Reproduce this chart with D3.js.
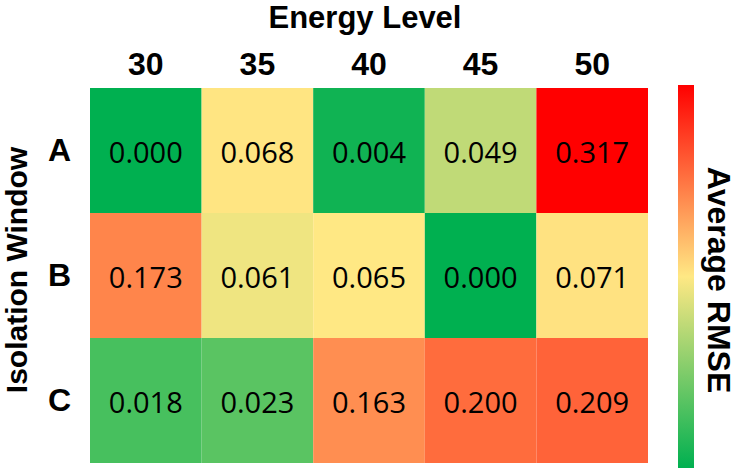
<!DOCTYPE html>
<html>
<head>
<meta charset="utf-8">
<script src="https://cdn.jsdelivr.net/npm/d3@7"></script>
<style>
  body { margin: 0; background: #fff; }
</style>
</head>
<body>
<script>
// heatmap of average RMSE, energy level vs isolation window
var width = 739;
var height = 469;

var energyLevels = ["30", "35", "40", "45", "50"];
var windows = ["A", "B", "C"];
var rowA = [0.000, 0.068, 0.004, 0.049, 0.317];
var rowB = [0.173, 0.061, 0.065, 0.000, 0.071];
var rowC = [0.018, 0.023, 0.163, 0.200, 0.209];
var rmse = [rowA, rowB, rowC];

var svg = d3.select("body")
            .append("svg")
            .attr("width", width)
            .attr("height", height);

var x = d3.scaleBand().domain(energyLevels).range([90, 648]);
var y = d3.scaleBand().domain(windows).range([88, 463]);

// excel-like 3 colour scale: min, median, max
var all = rmse.flat();
var color = d3.scaleLinear()
              .domain([d3.min(all), d3.median(all), d3.max(all)])
              .range(["#00B050", "#FFE884", "#FF0000"]);

var cells = [];
windows.forEach(function(w, i) {
  energyLevels.forEach(function(e, j) {
    cells.push({ row: w, col: e, value: rmse[i][j] });
  });
});

svg.append("g").selectAll("rect")
   .data(cells)
   .join("rect")
     .attr("x", d => x(d.col))
     .attr("y", d => y(d.row))
     .attr("width", x.bandwidth())
     .attr("height", y.bandwidth())
     .attr("fill", d => color(d.value));

svg.append("g").selectAll("text")
   .data(cells)
   .join("text")
     .attr("x", d => x(d.col) + x.bandwidth() / 2)
     .attr("y", d => y(d.row) + y.bandwidth() / 2 + 12)
     .attr("text-anchor", "middle")
     .style("font-family", "'Open Sans', sans-serif")
     .style("font-size", "29px")
     .attr("fill", "#000")
     .text(d => d.value.toFixed(3));

// axes
var xAxis = svg.append("g")
   .attr("transform", "translate(0,88)")
   .call(d3.axisTop(x).tickSize(0).tickPadding(13));
var yAxis = svg.append("g")
   .attr("transform", "translate(90,0)")
   .call(d3.axisLeft(y).tickSize(0).tickPadding(19));
[xAxis, yAxis].forEach(function(a) {
  a.select(".domain").remove();
  a.selectAll("text")
   .style("font-family", "'Liberation Sans', Arial, sans-serif")
   .style("font-weight", "bold")
   .style("font-size", "32px")
   .attr("fill", "#000");
});

// titles
svg.append("text")
   .attr("x", 365)
   .attr("y", 28)
   .attr("text-anchor", "middle")
   .style("font-family", "'Liberation Sans', Arial, sans-serif")
   .style("font-weight", "bold")
   .style("font-size", "31px")
   .text("Energy Level");

svg.append("text")
   .attr("transform", "translate(27,270) rotate(-90)")
   .attr("text-anchor", "middle")
   .style("font-family", "'Liberation Sans', Arial, sans-serif")
   .style("font-weight", "bold")
   .style("font-size", "30px")
   .text("Isolation Window");

// colour bar
var defs = svg.append("defs");
var grad = defs.append("linearGradient")
   .attr("id", "rmseGrad")
   .attr("x1", "0").attr("y1", "1")
   .attr("x2", "0").attr("y2", "0");
grad.selectAll("stop")
   .data(color.range())
   .join("stop")
     .attr("offset", (d, i) => (i / (color.range().length - 1) * 100) + "%")
     .attr("stop-color", d => d);

svg.append("rect")
   .attr("x", 678)
   .attr("y", 85)
   .attr("width", 16)
   .attr("height", 383)
   .attr("fill", "url(#rmseGrad)");

svg.append("text")
   .attr("transform", "translate(708,280) rotate(90)")
   .attr("text-anchor", "middle")
   .style("font-family", "'Liberation Sans', Arial, sans-serif")
   .style("font-weight", "bold")
   .style("font-size", "32px")
   .text("Average RMSE");
</script>
</body>
</html>
